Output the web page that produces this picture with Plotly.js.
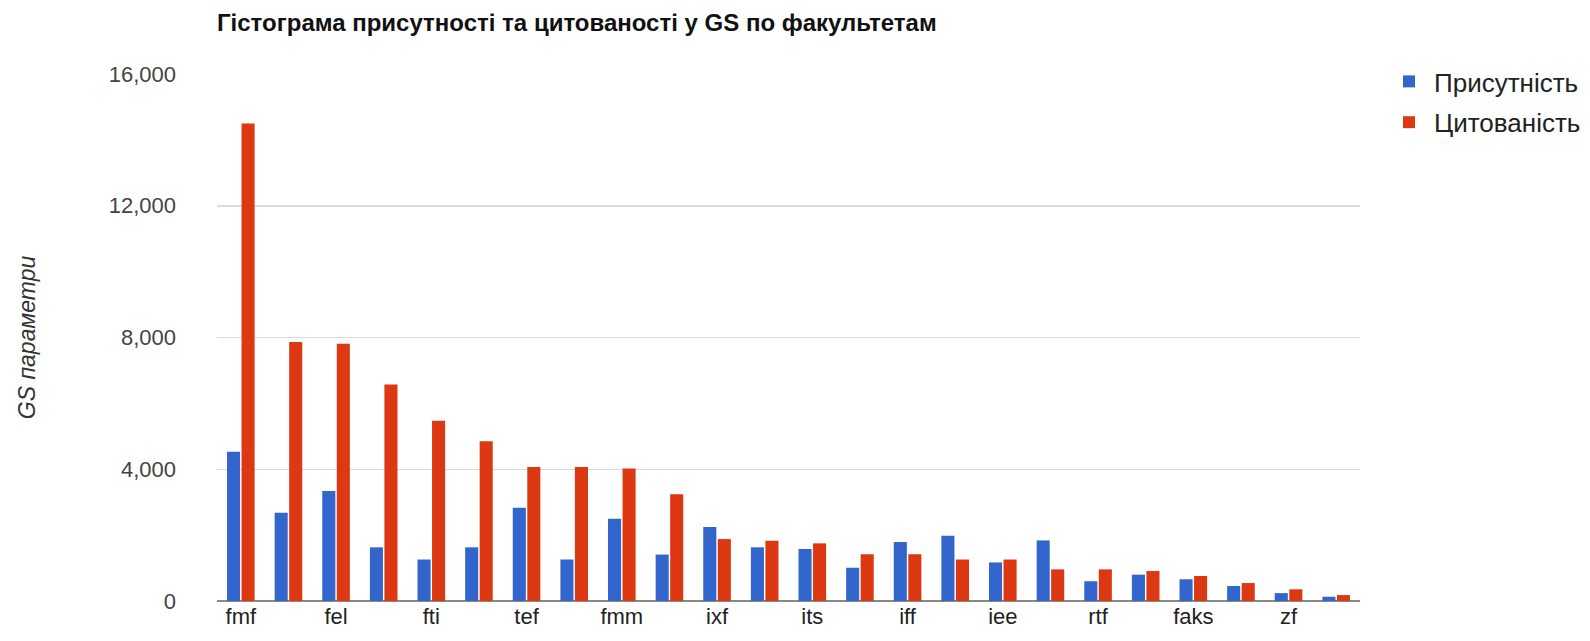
<!DOCTYPE html>
<html>
<head>
<meta charset="utf-8">
<script src="https://cdn.plot.ly/plotly-3.0.1.min.js"></script>
<style>html,body{margin:0;padding:0;background:#fff;}#chart{width:1590px;height:641px;}</style>
</head>
<body>
<div id="chart"></div>
<script>
// Faculty labels (only every other category is labelled on the axis)
const categories = ["fmf","","fel","","fti","","tef","","fmm","","ixf","","its","","iff","","iee","","rtf","","faks","","zf",""];
const presence = [4530,2680,3340,1630,1260,1630,2830,1260,2500,1410,2250,1630,1580,1010,1790,1980,1170,1840,600,800,660,455,240,130];
const citation = [14500,7860,7810,6570,5470,4850,4070,4070,4020,3240,1880,1830,1750,1420,1420,1260,1260,960,960,910,760,545,355,180];
const seriesNames = ["Присутність","Цитованість"];
const yTicks = [0,4000,8000,12000,16000];
const yTickText = ["0","4,000","8,000","12,000","16,000"];

const xPos = categories.map((c,i)=>i);

const traces = [
  {type:'bar', name:seriesNames[0], legendgroup:'g1', x:xPos, y:presence, marker:{color:'#3366CC'}},
  {type:'bar', name:seriesNames[1], legendgroup:'g2', x:xPos, y:citation, marker:{color:'#DC3912'}}
];

const layout = {
  width:1590, height:641,
  paper_bgcolor:'#fff', plot_bgcolor:'#fff',
  margin:{l:217, r:230, t:74, b:40, autoexpand:false},
  barmode:'group', bargap:0.39, bargroupgap:0.1,
  font:{family:'Arial, Liberation Sans, sans-serif', size:22, color:'#444'},
  title:{text:'<b>Гістограма присутності та цитованості у GS по факультетам</b>',
         x:217/1590, xref:'container', xanchor:'left', y:0.965, yref:'container', yanchor:'middle',
         font:{family:'Arial, Liberation Sans, sans-serif', size:24, color:'#111'}},
  xaxis:{range:[-0.5,23.5], tickvals:xPos, ticktext:categories, showgrid:false, zeroline:false,
         showline:false, ticks:'', tickfont:{size:22, color:'#222'}, fixedrange:true},
  yaxis:{range:[0,16000], tickvals:yTicks, ticktext:yTickText, showgrid:true, gridcolor:'#dcdcdc', gridwidth:1.5,
         zeroline:true, zerolinecolor:'#888', zerolinewidth:2, showline:false, automargin:true,
         ticks:'', ticklabelstandoff:40, tickfont:{size:22, color:'#444'},
         title:{text:'<i>GS параметри</i>', standoff:66, font:{size:23, color:'#333'}}},
  legend:{xref:'container', yref:'container', x:1384/1590, y:1-58/641, xanchor:'left', yanchor:'top',
          font:{size:26, color:'#222'}, tracegroupgap:4, itemwidth:40, bgcolor:'rgba(0,0,0,0)'},
  showlegend:true
};

Plotly.newPlot('chart', traces, layout, {displayModeBar:false, staticPlot:true});
</script>
</body>
</html>
